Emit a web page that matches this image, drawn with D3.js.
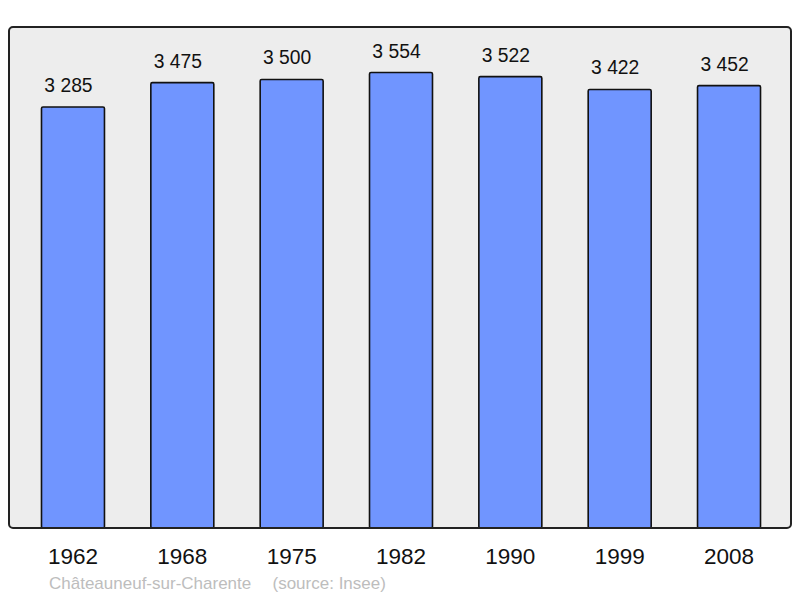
<!DOCTYPE html>
<html>
<head>
<meta charset="utf-8">
<script src="https://cdn.jsdelivr.net/npm/d3@7"></script>
<style>
  body { margin: 0; background: #fff; }
  svg { display: block; font-family: "Liberation Sans", Arial, sans-serif; }
</style>
</head>
<body>
<div id="chart"></div>
<script>
// population by census year
const years = ["1962", "1968", "1975", "1982", "1990", "1999", "2008"];
const population = [3285, 3475, 3500, 3554, 3522, 3422, 3452];
const townName = "Châteauneuf-sur-Charente";
const sourceText = "(source: Insee)";

const width = 800, height = 598;
const plot = { left: 9, right: 791, top: 27, bottom: 528 };

const svg = d3.select("#chart")
    .append("svg")
    .attr("width", width)
    .attr("height", height);

const data = years.map((y, i) => ({ year: y, pop: population[i] }));

// frame + grey background
svg.append("rect")
    .attr("x", plot.left)
    .attr("y", plot.top)
    .attr("width", plot.right - plot.left)
    .attr("height", plot.bottom - plot.top)
    .attr("rx", 4)
    .attr("fill", "#ededed");

const x = d3.scaleBand()
    .domain(years)
    .range([plot.left + 1, plot.right + 1])
    .paddingInner(0.424)
    .paddingOuter(0.288);

const y = d3.scaleLinear()
    .domain([0, d3.max(population) * 1.1])
    .range([plot.bottom, plot.top]);

//bars
svg.selectAll("rect.bar")
    .data(data)
    .enter()
    .append("rect")
    .attr("class", "bar")
    .attr("x", d => x(d.year))
    .attr("y", d => y(d.pop))
    .attr("width", x.bandwidth())
    .attr("height", d => y(0) - y(d.pop))
    .attr("rx", 1.5)
    .attr("fill", "#7095ff")
    .attr("stroke", "#111")
    .attr("stroke-width", 1.6);

// value labels above bars, french thousands spacing
const fmt = v => d3.format(",")(v).replace(",", " ");
svg.selectAll("text.val")
    .data(data)
    .enter()
    .append("text")
    .attr("class", "val")
    .attr("x", d => x(d.year) + x.bandwidth() / 2 - 4.5)
    .attr("y", d => y(d.pop) - 15)
    .attr("text-anchor", "middle")
    .style("font-size", "19.3px")
    .attr("fill", "#111")
    .text(d => fmt(d.pop));

// frame border drawn on top
svg.append("rect")
    .attr("x", plot.left)
    .attr("y", plot.top)
    .attr("width", plot.right - plot.left)
    .attr("height", plot.bottom - plot.top)
    .attr("rx", 4)
    .attr("fill", "none")
    .attr("stroke", "#222")
    .attr("stroke-width", 2);

// year labels
const xAxis = svg.append("g")
    .attr("transform", `translate(0, ${plot.bottom})`)
    .call(d3.axisBottom(x).tickSize(0));
xAxis.select(".domain").remove();
xAxis.selectAll("text")
    .attr("y", 36)
    .attr("dy", null)
    .style("font-size", "22.5px")
    .style("font-family", "Liberation Sans, Arial, sans-serif")
    .attr("fill", "#111");

// footer
svg.append("text")
    .attr("x", 49)
    .attr("y", 589)
    .style("font-size", "17px")
    .attr("fill", "#bdbdbd")
    .text(townName);
svg.append("text")
    .attr("x", 272.5)
    .attr("y", 589)
    .style("font-size", "17px")
    .attr("fill", "#bdbdbd")
    .text(sourceText);
</script>
</body>
</html>
